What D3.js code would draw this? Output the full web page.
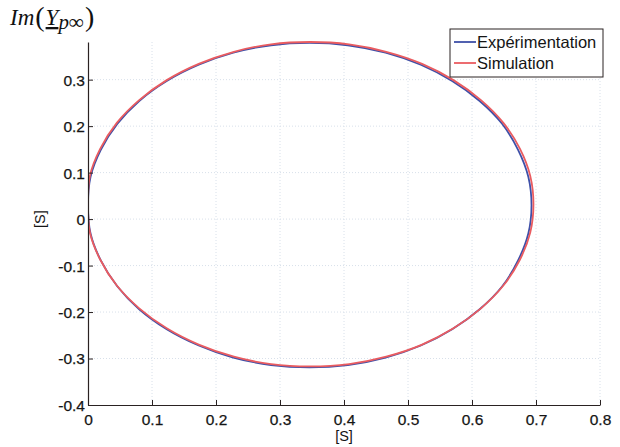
<!DOCTYPE html>
<html><head><meta charset="utf-8">
<script src="https://cdn.jsdelivr.net/npm/d3@7"></script>
<style>body{margin:0;background:#fff;}svg{display:block;}</style>
</head><body>
<svg id="c" width="620" height="447"></svg>
<script>
const xTicks = [0,0.1,0.2,0.3,0.4,0.5,0.6,0.7,0.8];
const yTicks = [-0.4,-0.3,-0.2,-0.1,0,0.1,0.2,0.3];
const seriesNames = ["Expérimentation","Simulation"];
const expX = [0.693,0.688,0.672,0.647,0.612,0.569,0.520,0.465,0.406,0.346,0.286,0.227,0.173,0.123,0.080,0.046,0.020,0.004,0.000,0.004,0.020,0.046,0.080,0.123,0.173,0.227,0.286,0.346,0.406,0.465,0.520,0.569,0.612,0.647,0.672,0.688];
const expY = [0.030,0.091,0.149,0.205,0.254,0.297,0.332,0.358,0.374,0.379,0.374,0.358,0.332,0.297,0.254,0.205,0.149,0.091,0.030,-0.031,-0.089,-0.145,-0.194,-0.237,-0.272,-0.298,-0.314,-0.319,-0.314,-0.298,-0.272,-0.237,-0.194,-0.145,-0.089,-0.031];
const simX = [0.696,0.691,0.675,0.649,0.614,0.571,0.522,0.466,0.408,0.347,0.286,0.228,0.173,0.123,0.080,0.045,0.019,0.003,0.000,0.003,0.019,0.045,0.080,0.123,0.173,0.228,0.286,0.347,0.408,0.466,0.522,0.571,0.614,0.649,0.675,0.691];
const simY = [0.032,0.093,0.151,0.207,0.256,0.299,0.334,0.360,0.376,0.381,0.376,0.360,0.334,0.299,0.256,0.207,0.151,0.093,0.032,-0.029,-0.087,-0.143,-0.192,-0.235,-0.270,-0.296,-0.312,-0.317,-0.312,-0.296,-0.270,-0.235,-0.192,-0.143,-0.087,-0.029];
const colors = ["#3e50a8","#ea5c60"];

const svg = d3.select("#c");
const L=88, R=600, T=42, B=405;
const x = d3.scaleLinear().domain([0,0.8]).range([L,R]);
const y = d3.scaleLinear().domain([-0.4,0.381]).range([B,T]);
const fmt = d => String(d);

// grid
const g = svg.append("g");
g.selectAll(".gx").data(xTicks.slice(1)).join("line")
  .attr("x1",d=>x(d)).attr("x2",d=>x(d)).attr("y1",T).attr("y2",B)
  .attr("stroke","#d8e0ea").attr("stroke-dasharray","1,2").attr("stroke-width",1);
g.selectAll(".gy").data(yTicks.slice(1)).join("line")
  .attr("x1",L).attr("x2",R).attr("y1",d=>y(d)).attr("y2",d=>y(d))
  .attr("stroke","#d8e0ea").attr("stroke-dasharray","1,2").attr("stroke-width",1);

// curves
const line = d3.line().x(d=>x(d[0])).y(d=>y(d[1])).curve(d3.curveCatmullRomClosed);
svg.append("defs").append("clipPath").attr("id","clip").append("rect")
  .attr("x",L).attr("y",T-3).attr("width",R-L).attr("height",B-T+3);
const exp = expX.map((v,i)=>[v,expY[i]]);
const sim = simX.map((v,i)=>[v,simY[i]]);
[exp,sim].forEach((s,i)=>{
  svg.append("path").attr("d",line(s)).attr("fill","none")
    .attr("stroke",colors[i]).attr("stroke-width",1.8).attr("clip-path","url(#clip)");
});

// axes
const font = "'Liberation Sans', Arial, sans-serif";
const xa = svg.append("g").attr("transform",`translate(0,${B})`)
  .call(d3.axisBottom(x).tickValues(xTicks).tickFormat(fmt).tickSizeInner(-5).tickSizeOuter(0).tickPadding(9));
const ya = svg.append("g").attr("transform",`translate(${L},0)`)
  .call(d3.axisLeft(y).tickValues(yTicks).tickFormat(fmt).tickSizeInner(-5).tickSizeOuter(0).tickPadding(3));
[xa,ya].forEach(a=>{
  a.select(".domain").attr("stroke","#2a2222").attr("stroke-width",1.2);
  a.selectAll(".tick line").attr("stroke","#2a2222");
  a.selectAll("text").attr("font-family",font).attr("font-size",15.5).attr("fill","#151515")
    .attr("stroke","#151515").attr("stroke-width",0.25);
});
ya.selectAll(".tick text").attr("dy","0.35em");

svg.append("text").attr("x",x(0.4)).attr("y",441).attr("text-anchor","middle")
  .attr("font-family",font).attr("font-size",14.5).attr("fill","#151515").text("[S]");
svg.append("text").attr("transform",`translate(45,${y(0)}) rotate(-90)`).attr("text-anchor","middle")
  .attr("font-family",font).attr("font-size",14.5).attr("fill","#151515").text("[S]");

// title
const t = svg.append("text").attr("x",10).attr("y",25).attr("font-family","'Liberation Serif','DejaVu Serif',serif")
  .attr("font-size",23).attr("fill","#111");
t.append("tspan").attr("font-style","italic").text("Im");
t.append("tspan").attr("font-size",28).attr("dy",1).attr("dx",1).text("(");
t.append("tspan").attr("font-style","italic").attr("text-decoration","underline").attr("dy",-1).attr("dx",1).text("Y");
t.append("tspan").attr("font-style","italic").attr("font-size",21).attr("dy",4).text("p∞");
t.append("tspan").attr("font-size",28).attr("dy",-3).attr("dx",1).text(")");

// legend
const lg = svg.append("g");
lg.append("rect").attr("x",450).attr("y",29).attr("width",153).attr("height",48)
  .attr("fill","#fff").attr("stroke","#2a2222").attr("stroke-width",1);
seriesNames.forEach((n,i)=>{
  const yy = 42 + i*21;
  lg.append("line").attr("x1",454).attr("x2",476).attr("y1",yy).attr("y2",yy)
    .attr("stroke",colors[i]).attr("stroke-width",1.8);
  lg.append("text").attr("x",477).attr("y",yy).attr("dy","0.35em")
    .attr("font-family",font).attr("font-size",16.5).attr("fill","#151515").text(n);
});
</script>
</body></html>
